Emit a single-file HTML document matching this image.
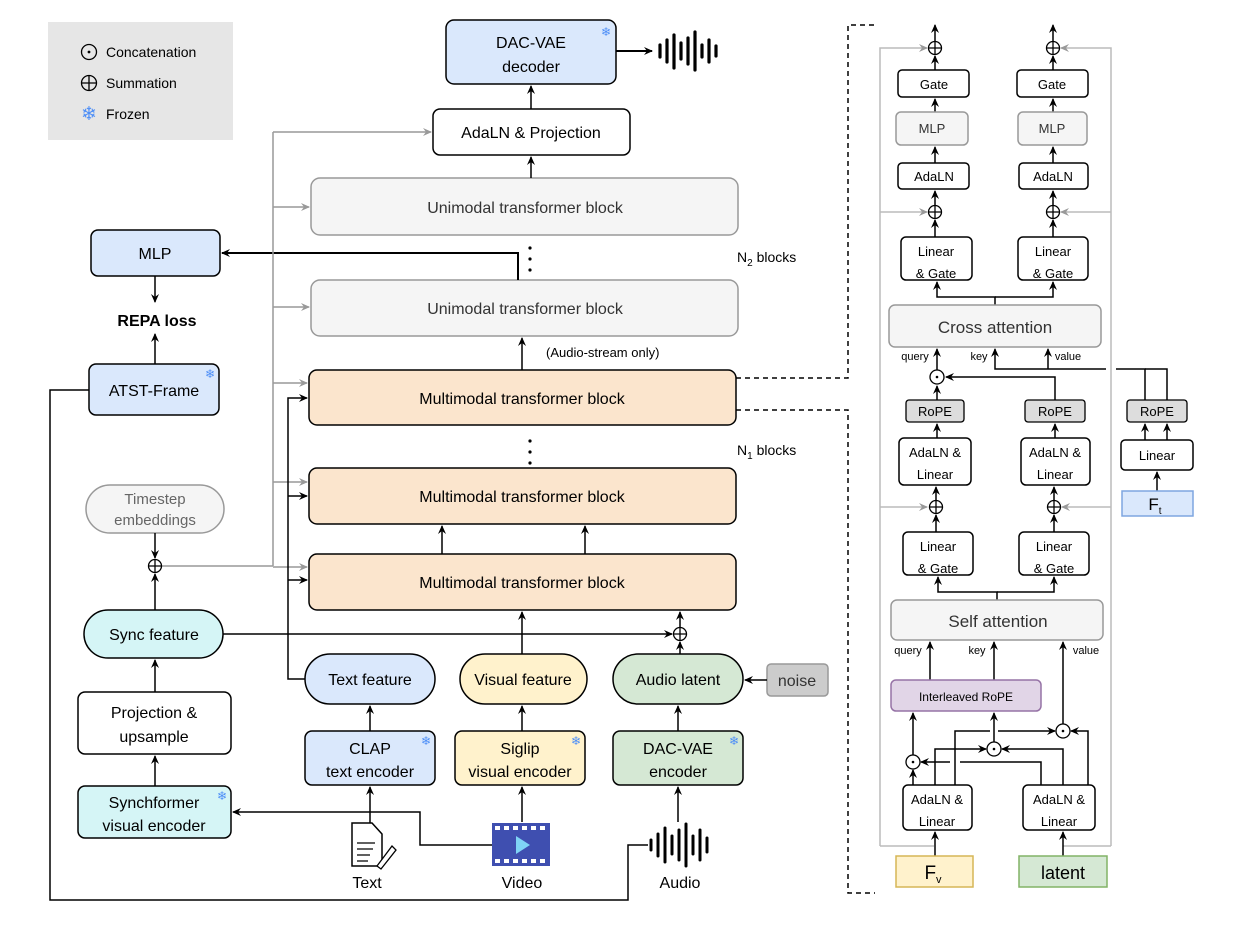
<!DOCTYPE html>
<html><head><meta charset="utf-8"><style>
html,body{margin:0;padding:0;background:#fff}
svg{display:block;font-family:"Liberation Sans",sans-serif}
</style></head><body>
<svg width="1248" height="932" viewBox="0 0 1248 932" xmlns="http://www.w3.org/2000/svg">
<defs>
<marker id="a" markerWidth="10" markerHeight="10" refX="8" refY="5" orient="auto" markerUnits="userSpaceOnUse"><path d="M0,1 L9,5 L0,9 L3,5 Z" fill="#000"/></marker>
<marker id="g" markerWidth="10" markerHeight="10" refX="8" refY="5" orient="auto" markerUnits="userSpaceOnUse"><path d="M0,1 L9,5 L0,9 L3,5 Z" fill="#999"/></marker>
</defs>

<!-- Legend -->
<rect x="48" y="22" width="185" height="118" fill="#e6e6e6"/>
<circle cx="89" cy="52" r="7.5" fill="none" stroke="#000" stroke-width="1.3"/><circle cx="89" cy="52" r="1.4"/>
<text x="106" y="57" font-size="14">Concatenation</text>
<circle cx="89" cy="83" r="7.5" fill="none" stroke="#000" stroke-width="1.3"/><path d="M81.5,83H96.5M89,75.5V90.5" stroke="#000" stroke-width="1.3"/>
<text x="106" y="88" font-size="14">Summation</text>
<text x="89" y="120" font-size="19" fill="#4d8ef7" text-anchor="middle">❄</text>
<text x="106" y="119" font-size="14">Frozen</text>

<g font-size="16" text-anchor="middle" stroke-width="1.5">
<!-- decoder -->
<rect x="446" y="20" width="170" height="64" rx="8" fill="#dae8fc" stroke="#000"/>
<text x="531" y="48">DAC-VAE</text><text x="531" y="72">decoder</text>
<text x="606" y="36" font-size="12" fill="#4d8ef7">❄</text>
<line x1="616" y1="51" x2="652" y2="51" stroke="#000" stroke-width="2" marker-end="url(#a)"/>
<g stroke="#000" stroke-width="3.2" stroke-linecap="round">
<line x1="660" y1="45" x2="660" y2="57"/><line x1="667" y1="40" x2="667" y2="62"/><line x1="674" y1="35" x2="674" y2="68"/><line x1="681" y1="43" x2="681" y2="59"/><line x1="688" y1="38" x2="688" y2="64"/><line x1="695" y1="32" x2="695" y2="70"/><line x1="702" y1="45" x2="702" y2="57"/><line x1="709" y1="40" x2="709" y2="62"/><line x1="716" y1="46" x2="716" y2="56"/>
</g>
<!-- AdaLN & projection -->
<rect x="433" y="109" width="197" height="46" rx="7" fill="#fff" stroke="#000"/>
<text x="531" y="138">AdaLN &amp; Projection</text>
<line x1="531" y1="109" x2="531" y2="86" stroke="#000" marker-end="url(#a)"/>
<!-- unimodal -->
<rect x="311" y="178" width="427" height="57" rx="9" fill="#f5f5f5" stroke="#999"/>
<text x="525" y="213" fill="#333">Unimodal transformer block</text>
<line x1="531" y1="178" x2="531" y2="157" stroke="#000" marker-end="url(#a)"/>
<circle cx="530" cy="248" r="1.6"/><circle cx="530" cy="259" r="1.6"/><circle cx="530" cy="270" r="1.6"/>
<rect x="311" y="280" width="427" height="56" rx="9" fill="#f5f5f5" stroke="#999"/>
<text x="525" y="314" fill="#333">Unimodal transformer block</text>
<text x="737" y="262" font-size="14" text-anchor="start">N<tspan font-size="10" dy="4">2</tspan><tspan dy="-4"> blocks</tspan></text>
<polyline points="518,280 518,253 222,253" fill="none" stroke="#000" stroke-width="2" marker-end="url(#a)"/>
<line x1="522" y1="370" x2="522" y2="338" stroke="#000" marker-end="url(#a)"/>
<text x="546" y="357" font-size="13" text-anchor="start">(Audio-stream only)</text>
<!-- multimodal -->
<rect x="309" y="370" width="427" height="55" rx="8" fill="#fbe5cd" stroke="#000"/>
<text x="522" y="404">Multimodal transformer block</text>
<circle cx="530" cy="441" r="1.6"/><circle cx="530" cy="452" r="1.6"/><circle cx="530" cy="463" r="1.6"/>
<text x="737" y="455" font-size="14" text-anchor="start">N<tspan font-size="10" dy="4">1</tspan><tspan dy="-4"> blocks</tspan></text>
<rect x="309" y="468" width="427" height="56" rx="8" fill="#fbe5cd" stroke="#000"/>
<text x="522" y="502">Multimodal transformer block</text>
<rect x="309" y="554" width="427" height="56" rx="8" fill="#fbe5cd" stroke="#000"/>
<text x="522" y="588">Multimodal transformer block</text>
<line x1="442" y1="554" x2="442" y2="526" stroke="#000" marker-end="url(#a)"/>
<line x1="585" y1="554" x2="585" y2="526" stroke="#000" marker-end="url(#a)"/>

<!-- gray timestep lines -->
<g stroke="#999" stroke-width="1.5" fill="none">
<line x1="161" y1="566" x2="273" y2="566"/>
<line x1="273" y1="566" x2="273" y2="132"/>
<line x1="273" y1="132" x2="431" y2="132" marker-end="url(#g)"/>
<line x1="273" y1="207" x2="309" y2="207" marker-end="url(#g)"/>
<line x1="273" y1="307" x2="309" y2="307" marker-end="url(#g)"/>
<line x1="273" y1="383" x2="307" y2="383" marker-end="url(#g)"/>
<line x1="273" y1="482" x2="307" y2="482" marker-end="url(#g)"/>
<line x1="273" y1="567" x2="307" y2="567" marker-end="url(#g)"/>
</g>
<!-- black text-feature lines -->
<polyline points="305,679 288,679 288,398 307,398" fill="none" stroke="#000" marker-end="url(#a)"/>
<line x1="288" y1="496" x2="307" y2="496" stroke="#000" marker-end="url(#a)"/>
<line x1="288" y1="580" x2="307" y2="580" stroke="#000" marker-end="url(#a)"/>

<!-- left column -->
<rect x="91" y="230" width="129" height="46" rx="7" fill="#dae8fc" stroke="#000"/>
<text x="155" y="259">MLP</text>
<line x1="155" y1="276" x2="155" y2="302" stroke="#000" marker-end="url(#a)"/>
<text x="157" y="326" font-weight="bold" font-size="16">REPA loss</text>
<line x1="155" y1="364" x2="155" y2="334" stroke="#000" marker-end="url(#a)"/>
<rect x="89" y="364" width="130" height="51" rx="7" fill="#dae8fc" stroke="#000"/>
<text x="154" y="396">ATST-Frame</text>
<text x="210" y="378" font-size="12" fill="#4d8ef7">❄</text>

<rect x="86" y="485" width="138" height="48" rx="24" fill="#f5f5f5" stroke="#999"/>
<text x="155" y="504" fill="#666" font-size="15">Timestep</text><text x="155" y="525" fill="#666" font-size="15">embeddings</text>
<line x1="155" y1="533" x2="155" y2="558" stroke="#000" marker-end="url(#a)"/>
<circle cx="155" cy="566" r="6.5" fill="#fff" stroke="#000" stroke-width="1.3"/><path d="M148.5,566H161.5M155,559.5V572.5" stroke="#000" stroke-width="1.3"/>
<line x1="155" y1="610" x2="155" y2="574" stroke="#000" marker-end="url(#a)"/>
<rect x="84" y="610" width="139" height="48" rx="24" fill="#d5f5f6" stroke="#000"/>
<text x="154" y="640">Sync feature</text>
<line x1="155" y1="692" x2="155" y2="660" stroke="#000" marker-end="url(#a)"/>
<rect x="78" y="692" width="153" height="62" rx="7" fill="#fff" stroke="#000"/>
<text x="154" y="718">Projection &amp;</text><text x="154" y="742">upsample</text>
<line x1="155" y1="786" x2="155" y2="756" stroke="#000" marker-end="url(#a)"/>
<rect x="78" y="786" width="153" height="52" rx="7" fill="#d5f5f6" stroke="#000"/>
<text x="154" y="808">Synchformer</text><text x="154" y="831">visual encoder</text>
<text x="222" y="800" font-size="12" fill="#4d8ef7">❄</text>

<!-- sync line -->
<line x1="223" y1="634" x2="672" y2="634" stroke="#000" marker-end="url(#a)"/>
<circle cx="680" cy="634" r="6.5" fill="#fff" stroke="#000" stroke-width="1.3"/><path d="M673.5,634H686.5M680,627.5V640.5" stroke="#000" stroke-width="1.3"/>
<line x1="680" y1="627" x2="680" y2="612" stroke="#000" marker-end="url(#a)"/>
<line x1="680" y1="654" x2="680" y2="642" stroke="#000" marker-end="url(#a)"/>
<line x1="522" y1="654" x2="522" y2="612" stroke="#000" marker-end="url(#a)"/>

<!-- features -->
<rect x="305" y="654" width="130" height="50" rx="25" fill="#dae8fc" stroke="#000"/>
<text x="370" y="685">Text feature</text>
<rect x="460" y="654" width="127" height="50" rx="25" fill="#fff2cc" stroke="#000"/>
<text x="523" y="685">Visual feature</text>
<rect x="613" y="654" width="130" height="50" rx="25" fill="#d5e8d4" stroke="#000"/>
<text x="678" y="685">Audio latent</text>
<rect x="767" y="664" width="61" height="32" rx="4" fill="#ccc" stroke="#999"/>
<text x="797" y="686" fill="#333">noise</text>
<line x1="767" y1="680" x2="745" y2="680" stroke="#000" marker-end="url(#a)"/>

<!-- encoders -->
<rect x="305" y="731" width="130" height="54" rx="7" fill="#dae8fc" stroke="#000"/>
<text x="370" y="754">CLAP</text><text x="370" y="777">text encoder</text>
<text x="426" y="745" font-size="12" fill="#4d8ef7">❄</text>
<line x1="370" y1="731" x2="370" y2="706" stroke="#000" marker-end="url(#a)"/>
<rect x="455" y="731" width="130" height="54" rx="7" fill="#fff2cc" stroke="#000"/>
<text x="520" y="754">Siglip</text><text x="520" y="777">visual encoder</text>
<text x="576" y="745" font-size="12" fill="#4d8ef7">❄</text>
<line x1="522" y1="731" x2="522" y2="706" stroke="#000" marker-end="url(#a)"/>
<rect x="613" y="731" width="130" height="54" rx="7" fill="#d5e8d4" stroke="#000"/>
<text x="678" y="754">DAC-VAE</text><text x="678" y="777">encoder</text>
<text x="734" y="745" font-size="12" fill="#4d8ef7">❄</text>
<line x1="678" y1="731" x2="678" y2="706" stroke="#000" marker-end="url(#a)"/>

<!-- inputs -->
<line x1="370" y1="840" x2="370" y2="787" stroke="#000" marker-end="url(#a)"/>
<line x1="522" y1="822" x2="522" y2="787" stroke="#000" marker-end="url(#a)"/>
<line x1="678" y1="822" x2="678" y2="787" stroke="#000" marker-end="url(#a)"/>
<polyline points="492,845 420,845 420,812 233,812" fill="none" stroke="#000" marker-end="url(#a)"/>
<polyline points="89,390 50,390 50,900 628,900 628,845 648,845" fill="none" stroke="#000"/>
<!-- text icon -->
<path d="M352,823 H372 L382,834 V866 H352 Z" fill="#fff" stroke="#000"/>
<path d="M357,843H375M357,849H373M357,855H370M357,861H368" stroke="#000" stroke-width="1.3"/>
<path d="M377,866 L392,846 L396,850 L381,869 Z" fill="#fff" stroke="#000" stroke-width="1.3"/>
<text x="367" y="888">Text</text>
<!-- video icon -->
<rect x="492" y="823" width="58" height="43" fill="#3f4fb0"/>
<g fill="#fff"><rect x="495" y="826" width="5" height="4"/><rect x="504" y="826" width="5" height="4"/><rect x="513" y="826" width="5" height="4"/><rect x="522" y="826" width="5" height="4"/><rect x="531" y="826" width="5" height="4"/><rect x="540" y="826" width="5" height="4"/>
<rect x="495" y="859" width="5" height="4"/><rect x="504" y="859" width="5" height="4"/><rect x="513" y="859" width="5" height="4"/><rect x="522" y="859" width="5" height="4"/><rect x="531" y="859" width="5" height="4"/><rect x="540" y="859" width="5" height="4"/></g>
<path d="M516,836 L530,845 L516,854 Z" fill="#7fd3f5"/>
<text x="522" y="888">Video</text>
<!-- audio icon -->
<g stroke="#000" stroke-width="3" stroke-linecap="round">
<line x1="651" y1="840" x2="651" y2="850"/><line x1="658" y1="834" x2="658" y2="856"/><line x1="665" y1="828" x2="665" y2="862"/><line x1="672" y1="836" x2="672" y2="854"/><line x1="679" y1="830" x2="679" y2="860"/><line x1="686" y1="824" x2="686" y2="866"/><line x1="693" y1="836" x2="693" y2="854"/><line x1="700" y1="830" x2="700" y2="860"/><line x1="707" y1="838" x2="707" y2="852"/>
</g>
<text x="680" y="888">Audio</text>

<!-- dashed connectors -->
<polyline points="736,378 848,378 848,25 875,25" fill="none" stroke="#000" stroke-dasharray="5,4"/>
<polyline points="736,410 848,410 848,893 875,893" fill="none" stroke="#000" stroke-dasharray="5,4"/>
</g>

<!-- RIGHT PANEL -->
<g font-size="13" text-anchor="middle" stroke-width="1.5">
<g stroke="#bbb" stroke-width="1.5" fill="none">
<polyline points="880,846 880,48 927,48" marker-end="url(#g)"/>
<polyline points="1111,846 1111,48 1061,48" marker-end="url(#g)"/>
<line x1="880" y1="212" x2="927" y2="212" marker-end="url(#g)"/>
<line x1="1111" y1="212" x2="1061" y2="212" marker-end="url(#g)"/>
<line x1="880" y1="507" x2="927" y2="507" marker-end="url(#g)"/>
<line x1="1111" y1="507" x2="1062" y2="507" marker-end="url(#g)"/>
<line x1="880" y1="846" x2="934" y2="846"/><line x1="1111" y1="846" x2="1063" y2="846"/>
</g>
<g id="sums" fill="#fff" stroke="#000" stroke-width="1.3">
<circle cx="935" cy="48" r="6.5"/><circle cx="1053" cy="48" r="6.5"/>
<circle cx="935" cy="212" r="6.5"/><circle cx="1053" cy="212" r="6.5"/>
<circle cx="936" cy="507" r="6.5"/><circle cx="1054" cy="507" r="6.5"/>
</g>
<path d="M928.5,48H941.5M935,41.5V54.5M1046.5,48H1059.5M1053,41.5V54.5M928.5,212H941.5M935,205.5V218.5M1046.5,212H1059.5M1053,205.5V218.5M929.5,507H942.5M936,500.5V513.5M1047.5,507H1060.5M1054,500.5V513.5" stroke="#000" stroke-width="1.3"/>
<g stroke="#000" marker-end="url(#a)">
<line x1="935" y1="41" x2="935" y2="25"/><line x1="1053" y1="41" x2="1053" y2="25"/>
<line x1="935" y1="70" x2="935" y2="56"/><line x1="1053" y1="70" x2="1053" y2="56"/>
<line x1="935" y1="112" x2="935" y2="99"/><line x1="1053" y1="112" x2="1053" y2="99"/>
<line x1="935" y1="163" x2="935" y2="147"/><line x1="1053" y1="163" x2="1053" y2="147"/>
<line x1="935" y1="205" x2="935" y2="191"/><line x1="1053" y1="205" x2="1053" y2="191"/>
<line x1="935" y1="237" x2="935" y2="220"/><line x1="1053" y1="237" x2="1053" y2="220"/>
<line x1="936" y1="532" x2="936" y2="515"/><line x1="1054" y1="532" x2="1054" y2="515"/>
<line x1="936" y1="500" x2="936" y2="487"/><line x1="1054" y1="500" x2="1054" y2="487"/>
</g>
<g fill="#fff" stroke="#000">
<rect x="898" y="70" width="71" height="27" rx="4"/><rect x="1017" y="70" width="71" height="27" rx="4"/>
<rect x="896" y="112" width="72" height="33" rx="5" fill="#f5f5f5" stroke="#999"/><rect x="1018" y="112" width="69" height="33" rx="5" fill="#f5f5f5" stroke="#999"/>
<rect x="898" y="163" width="71" height="26" rx="4"/><rect x="1019" y="163" width="69" height="26" rx="4"/>
<rect x="901" y="237" width="71" height="43" rx="5"/><rect x="1018" y="237" width="70" height="43" rx="5"/>
<rect x="899" y="438" width="72" height="47" rx="5"/><rect x="1021" y="438" width="69" height="47" rx="5"/>
<rect x="1121" y="440" width="72" height="30" rx="4"/>
<rect x="903" y="532" width="70" height="43" rx="5"/><rect x="1019" y="532" width="70" height="43" rx="5"/>
<rect x="903" y="785" width="69" height="45" rx="5"/><rect x="1023" y="785" width="72" height="45" rx="5"/>
</g>
<text x="934" y="89">Gate</text><text x="1052" y="89">Gate</text>
<text x="932" y="133" fill="#333">MLP</text><text x="1052" y="133" fill="#333">MLP</text>
<text x="934" y="181">AdaLN</text><text x="1053" y="181">AdaLN</text>
<text x="936" y="256">Linear</text><text x="936" y="278">&amp; Gate</text>
<text x="1053" y="256">Linear</text><text x="1053" y="278">&amp; Gate</text>
<text x="935" y="457">AdaLN &amp;</text><text x="935" y="479">Linear</text>
<text x="1055" y="457">AdaLN &amp;</text><text x="1055" y="479">Linear</text>
<text x="1157" y="460">Linear</text>
<text x="938" y="551">Linear</text><text x="938" y="573">&amp; Gate</text>
<text x="1054" y="551">Linear</text><text x="1054" y="573">&amp; Gate</text>
<text x="937" y="804">AdaLN &amp;</text><text x="937" y="826">Linear</text>
<text x="1059" y="804">AdaLN &amp;</text><text x="1059" y="826">Linear</text>

<!-- cross attention -->
<polyline points="995,305 995,297 937,297 937,282" fill="none" stroke="#000" marker-end="url(#a)"/>
<polyline points="995,297 1053,297 1053,282" fill="none" stroke="#000" marker-end="url(#a)"/>
<rect x="889" y="305" width="212" height="42" rx="6" fill="#f5f5f5" stroke="#999"/>
<text x="995" y="333" font-size="17" fill="#333">Cross attention</text>
<text x="915" y="360" font-size="11">query</text><text x="979" y="360" font-size="11">key</text><text x="1068" y="360" font-size="11">value</text>
<line x1="937" y1="370" x2="937" y2="349" stroke="#000" marker-end="url(#a)"/>
<polyline points="1106,369 995,369 995,349" fill="none" stroke="#000" marker-end="url(#a)"/>
<line x1="1048" y1="369" x2="1048" y2="349" stroke="#000" marker-end="url(#a)"/>
<polyline points="1145,400 1145,369 1116,369" fill="none" stroke="#000"/>
<polyline points="1167,400 1167,369 1145,369" fill="none" stroke="#000"/>
<circle cx="937" cy="377" r="7" fill="#fff" stroke="#000" stroke-width="1.3"/><circle cx="937" cy="377" r="1.3"/>
<polyline points="1055,400 1055,377 946,377" fill="none" stroke="#000" marker-end="url(#a)"/>
<line x1="937" y1="400" x2="937" y2="386" stroke="#000" marker-end="url(#a)"/>
<g fill="#ddd" stroke="#000" stroke-width="1.3">
<rect x="906" y="400" width="58" height="22" rx="3"/><rect x="1025" y="400" width="60" height="22" rx="3"/><rect x="1127" y="400" width="60" height="22" rx="3"/>
</g>
<text x="935" y="416">RoPE</text><text x="1055" y="416">RoPE</text><text x="1157" y="416">RoPE</text>
<g stroke="#000" marker-end="url(#a)">
<line x1="937" y1="438" x2="937" y2="424"/><line x1="1055" y1="438" x2="1055" y2="424"/>
<line x1="1145" y1="440" x2="1145" y2="424"/><line x1="1167" y1="440" x2="1167" y2="424"/>
<line x1="1157" y1="491" x2="1157" y2="472"/>
</g>
<rect x="1122" y="491" width="71" height="25" fill="#dae8fc" stroke="#7ea6e0"/>
<text x="1155" y="510" font-size="17">F<tspan font-size="10" dy="4">t</tspan></text>

<!-- self attention -->
<polyline points="997,600 997,592 938,592 938,577" fill="none" stroke="#000" marker-end="url(#a)"/>
<polyline points="997,592 1054,592 1054,577" fill="none" stroke="#000" marker-end="url(#a)"/>
<rect x="891" y="600" width="212" height="40" rx="6" fill="#f5f5f5" stroke="#999"/>
<text x="998" y="627" font-size="17" fill="#333">Self attention</text>
<text x="908" y="654" font-size="11">query</text><text x="977" y="654" font-size="11">key</text><text x="1086" y="654" font-size="11">value</text>
<line x1="930" y1="680" x2="930" y2="642" stroke="#000" marker-end="url(#a)"/>
<line x1="994" y1="680" x2="994" y2="642" stroke="#000" marker-end="url(#a)"/>
<line x1="1063" y1="724" x2="1063" y2="642" stroke="#000" marker-end="url(#a)"/>
<rect x="891" y="680" width="150" height="31" rx="5" fill="#e1d5e7" stroke="#9673a6"/>
<text x="966" y="701" font-size="12">Interleaved RoPE</text>
<line x1="913" y1="755" x2="913" y2="713" stroke="#000" marker-end="url(#a)"/>
<line x1="994" y1="742" x2="994" y2="713" stroke="#000" marker-end="url(#a)"/>
<g fill="none" stroke="#000">
<line x1="913" y1="785" x2="913" y2="770" marker-end="url(#a)"/>
<polyline points="1041,785 1041,762 960,762"/><line x1="950" y1="762" x2="921" y2="762" marker-end="url(#a)"/>
<polyline points="935,785 935,749 986,749" marker-end="url(#a)"/>
<polyline points="1063,785 1063,749 1002,749" marker-end="url(#a)"/>
<polyline points="955,785 955,731 990,731"/><line x1="998" y1="731" x2="1055" y2="731" marker-end="url(#a)"/>
<polyline points="1088,785 1088,731 1071,731" marker-end="url(#a)"/>
</g>
<g fill="#fff" stroke="#000" stroke-width="1.3">
<circle cx="913" cy="762" r="7"/><circle cx="994" cy="749" r="7"/><circle cx="1063" cy="731" r="7"/>
</g>
<circle cx="913" cy="762" r="1.3"/><circle cx="994" cy="749" r="1.3"/><circle cx="1063" cy="731" r="1.3"/>
<line x1="935" y1="856" x2="935" y2="832" stroke="#000" marker-end="url(#a)"/>
<line x1="1063" y1="856" x2="1063" y2="832" stroke="#000" marker-end="url(#a)"/>
<rect x="896" y="856" width="77" height="31" fill="#fff2cc" stroke="#d6b656"/>
<text x="933" y="879" font-size="19">F<tspan font-size="11" dy="4">v</tspan></text>
<rect x="1019" y="856" width="88" height="31" fill="#d5e8d4" stroke="#82b366"/>
<text x="1063" y="879" font-size="18">latent</text>
</g>
</svg>
</body></html>
